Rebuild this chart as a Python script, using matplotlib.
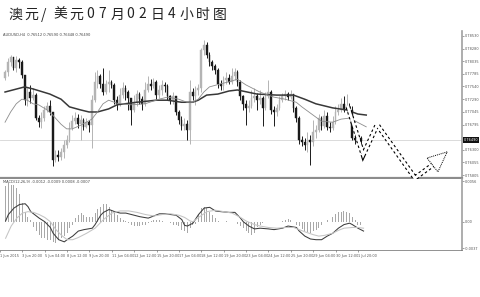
import matplotlib
matplotlib.use("Agg")
import matplotlib.pyplot as plt
from matplotlib.patches import Polygon
import numpy as np

# ---- candles (4h bars, AUDUSD) ----
open0 = 0.7770
close = [0.7782, 0.7802, 0.7811, 0.7790, 0.7806, 0.7802, 0.7776, 0.7727, 0.7743, 0.7731,
         0.7737, 0.7692, 0.7684, 0.7692, 0.7708, 0.7716, 0.7704, 0.7610, 0.7620, 0.7616,
         0.7626, 0.7640, 0.7649, 0.7673, 0.7686, 0.7692, 0.7680, 0.7688, 0.7675, 0.7684,
         0.7678, 0.7727, 0.7763, 0.7774, 0.7759, 0.7743, 0.7759, 0.7763, 0.7757, 0.7727,
         0.7720, 0.7737, 0.7751, 0.7743, 0.7731, 0.7708, 0.7723, 0.7739, 0.7729, 0.7720,
         0.7747, 0.7759, 0.7755, 0.7763, 0.7737, 0.7747, 0.7757, 0.7755, 0.7735, 0.7727,
         0.7735, 0.7704, 0.7688, 0.7677, 0.7680, 0.7669, 0.7743, 0.7735, 0.7747, 0.7751,
         0.7825, 0.7835, 0.7815, 0.7802, 0.7794, 0.7786, 0.7759, 0.7755, 0.7766, 0.7770,
         0.7763, 0.7774, 0.7782, 0.7763, 0.7735, 0.7720, 0.7712, 0.7716, 0.7731, 0.7735,
         0.7727, 0.7731, 0.7712, 0.7735, 0.7743, 0.7708, 0.7704, 0.7712, 0.7727, 0.7735,
         0.7739, 0.7733, 0.7739, 0.7712, 0.7692, 0.7649, 0.7645, 0.7640, 0.7649, 0.7645,
         0.7665, 0.7669, 0.7692, 0.7677, 0.7696, 0.7675, 0.7673, 0.7684, 0.7704, 0.7708,
         0.7720, 0.7708, 0.7716, 0.7708, 0.7653, 0.7649, 0.7653, 0.7647]
high = [0.7786, 0.7809, 0.7815, 0.7811, 0.7813, 0.7809, 0.7806, 0.7776, 0.7751, 0.7757,
        0.7751, 0.7741, 0.7698, 0.7704, 0.7716, 0.7723, 0.7727, 0.7704, 0.7630, 0.7630,
        0.7634, 0.7649, 0.7659, 0.7684, 0.7698, 0.7704, 0.7700, 0.7698, 0.7692, 0.7692,
        0.7688, 0.7737, 0.7782, 0.7786, 0.7778, 0.7790, 0.7766, 0.7786, 0.7766, 0.7761,
        0.7735, 0.7751, 0.7763, 0.7757, 0.7747, 0.7731, 0.7737, 0.7747, 0.7743, 0.7735,
        0.7763, 0.7774, 0.7768, 0.7770, 0.7766, 0.7757, 0.7766, 0.7763, 0.7759, 0.7737,
        0.7743, 0.7735, 0.7708, 0.7696, 0.7692, 0.7688, 0.7766, 0.7751, 0.7755, 0.7759,
        0.7829, 0.7845, 0.7841, 0.7821, 0.7806, 0.7798, 0.7790, 0.7766, 0.7774, 0.7782,
        0.7778, 0.7790, 0.7790, 0.7786, 0.7766, 0.7737, 0.7727, 0.7727, 0.7747, 0.7751,
        0.7741, 0.7747, 0.7735, 0.7743, 0.7766, 0.7747, 0.7716, 0.7720, 0.7735, 0.7741,
        0.7747, 0.7743, 0.7747, 0.7739, 0.7716, 0.7696, 0.7657, 0.7653, 0.7665, 0.7659,
        0.7688, 0.7678, 0.7700, 0.7696, 0.7708, 0.7704, 0.7684, 0.7696, 0.7716, 0.7720,
        0.7731, 0.7735, 0.7739, 0.7721, 0.7716, 0.7661, 0.7661, 0.7657]
low = [0.7766, 0.7774, 0.7794, 0.7786, 0.7782, 0.7790, 0.7770, 0.7718, 0.7716, 0.7721,
       0.7727, 0.7688, 0.7675, 0.7673, 0.7686, 0.7704, 0.7698, 0.7598, 0.7606, 0.7608,
       0.7610, 0.7614, 0.7634, 0.7645, 0.7669, 0.7680, 0.7673, 0.7649, 0.7669, 0.7673,
       0.7665, 0.7634, 0.7723, 0.7751, 0.7751, 0.7737, 0.7739, 0.7743, 0.7751, 0.7720,
       0.7708, 0.7716, 0.7731, 0.7727, 0.7708, 0.7678, 0.7704, 0.7716, 0.7720, 0.7708,
       0.7716, 0.7743, 0.7747, 0.7751, 0.7729, 0.7731, 0.7737, 0.7743, 0.7727, 0.7720,
       0.7720, 0.7698, 0.7680, 0.7669, 0.7669, 0.7649, 0.7641, 0.7727, 0.7718, 0.7737,
       0.7743, 0.7815, 0.7809, 0.7794, 0.7786, 0.7778, 0.7751, 0.7747, 0.7747, 0.7759,
       0.7759, 0.7759, 0.7766, 0.7755, 0.7727, 0.7708, 0.7678, 0.7704, 0.7712, 0.7723,
       0.7708, 0.7720, 0.7677, 0.7708, 0.7731, 0.7700, 0.7677, 0.7696, 0.7708, 0.7723,
       0.7727, 0.7727, 0.7729, 0.7704, 0.7684, 0.7641, 0.7638, 0.7630, 0.7626, 0.7600,
       0.7638, 0.7653, 0.7665, 0.7669, 0.7673, 0.7669, 0.7665, 0.7669, 0.7680, 0.7698,
       0.7704, 0.7704, 0.7704, 0.7702, 0.7649, 0.7641, 0.7645, 0.7640]

# moving averages (read as vertices: bar index, price)
ma_slow_idx = [0, 7, 10, 16, 20, 23, 27, 30, 33, 37, 40, 47, 54, 58, 63, 67, 69, 72, 76, 80,
               83, 90, 97, 103, 107, 111, 117, 122, 126, 129]
ma_slow = [0.7743, 0.7753, 0.7749, 0.7739, 0.7729, 0.7714, 0.7708, 0.7704, 0.7704, 0.7710,
           0.7718, 0.7723, 0.7727, 0.7727, 0.7723, 0.7723, 0.7727, 0.7737, 0.7739, 0.7745,
           0.7747, 0.7739, 0.7737, 0.7737, 0.7729, 0.7720, 0.7712, 0.7708, 0.7700, 0.7698]
ma_fast_idx = [0, 2, 4, 6, 8, 10, 12, 15, 17, 20, 22, 24, 27, 29, 31, 33, 35, 37, 40, 45,
               50, 55, 58, 62, 65, 67, 69, 71, 73, 77, 80, 83, 86, 91, 96, 100, 104, 106, 110, 113,
               117, 120, 123, 129]
ma_fast = [0.7684, 0.7704, 0.7720, 0.7729, 0.7727, 0.7720, 0.7718, 0.7708, 0.7698, 0.7680,
           0.7671, 0.7671, 0.7678, 0.7684, 0.7690, 0.7704, 0.7720, 0.7727, 0.7721, 0.7718,
           0.7720, 0.7729, 0.7733, 0.7729, 0.7723, 0.7723, 0.7729, 0.7743, 0.7753, 0.7759,
           0.7763, 0.7768, 0.7757, 0.7743, 0.7733, 0.7729, 0.7723, 0.7714, 0.7698, 0.7686,
           0.7684, 0.7690, 0.7692, 0.7675]

# MACD(12,26,9)
macd_hist = [0.0049, 0.0054, 0.0051, 0.0051, 0.0047, 0.0038, 0.0026, 0.0014, 0.0007, 0.0003,
             -0.0008, -0.0013, -0.0019, -0.0023, -0.0023, -0.0025, -0.0025, -0.0028, -0.0030, -0.0025,
             -0.0022, -0.0020, -0.0016, -0.0009, -0.0004, 0.0005, 0.0010, 0.0012, 0.0010, 0.0007,
             0.0007, 0.0007, 0.0012, 0.0017, 0.0021, 0.0024, 0.0024, 0.0020, 0.0016, 0.0013,
             0.0009, 0.0005, 0.0003, 0.0001, -0.0002, -0.0004, -0.0006, -0.0006, -0.0006, -0.0004,
             -0.0004, -0.0002, 0.0001, 0.0003, 0.0003, 0.0002, 0.0001, 0.0001, -0.0001, -0.0002,
             -0.0004, -0.0004, -0.0006, -0.0011, -0.0013, -0.0016, -0.0009, -0.0004, -0.0003, 0.0010,
             0.0019, 0.0021, 0.0019, 0.0014, 0.0010, 0.0005, 0.0001, 0.0000, 0.0000, 0.0001,
             0.0000, 0.0000, -0.0001, -0.0003, -0.0006, -0.0009, -0.0013, -0.0016, -0.0018, -0.0016,
             -0.0008, -0.0004, -0.0002, -0.0001, 0.0000, 0.0000, -0.0001, -0.0001, -0.0001, 0.0001,
             0.0003, 0.0004, 0.0003, 0.0000, -0.0004, -0.0006, -0.0010, -0.0013, -0.0014, -0.0016,
             -0.0013, -0.0011, -0.0009, -0.0004, 0.0000, 0.0003, 0.0005, 0.0007, 0.0011, 0.0013,
             0.0014, 0.0015, 0.0014, 0.0012, 0.0007, 0.0003, -0.0004, -0.0004]
macd_idx = [0, 1, 3, 5, 7, 8, 9, 10, 12, 14, 16, 17, 19, 21, 22, 24, 26, 28, 31, 32,
            34, 35, 37, 39, 41, 43, 45, 48, 51, 53, 55, 57, 59, 61, 63, 64, 65, 66, 67, 69,
            71, 73, 75, 77, 80, 82, 84, 85, 87, 89, 91, 94, 96, 99, 101, 104, 105, 107, 109, 111,
            113, 115, 117, 119, 121, 123, 124, 126, 128]
macd_main = [0.0001, 0.0010, 0.0019, 0.0024, 0.0025, 0.0021, 0.0014, 0.0011, 0.0005, 0.0000,
             -0.0008, -0.0016, -0.0025, -0.0028, -0.0025, -0.0020, -0.0013, -0.0011, -0.0009, -0.0004,
             0.0009, 0.0013, 0.0017, 0.0014, 0.0012, 0.0012, 0.0010, 0.0007, 0.0005, 0.0008,
             0.0011, 0.0011, 0.0010, 0.0009, 0.0003, -0.0005, -0.0006, -0.0004, -0.0002, 0.0010,
             0.0019, 0.0020, 0.0015, 0.0014, 0.0013, 0.0013, 0.0005, 0.0000, -0.0006, -0.0010,
             -0.0009, -0.0010, -0.0011, -0.0009, -0.0006, -0.0008, -0.0013, -0.0020, -0.0024, -0.0025,
             -0.0025, -0.0020, -0.0016, -0.0009, -0.0004, -0.0002, -0.0004, -0.0009, -0.0013]
signal_idx = [0, 2, 4, 6, 8, 10, 12, 14, 16, 18, 20, 22, 24, 26, 29, 32, 35, 38, 41, 44,
              47, 50, 53, 56, 59, 62, 64, 66, 67, 69, 72, 75, 78, 81, 84, 86, 89, 91, 94, 97,
              100, 103, 105, 107, 110, 112, 114, 117, 119, 121, 124, 126, 128]
macd_signal = [-0.0023, -0.0006, 0.0005, 0.0012, 0.0014, 0.0013, 0.0010, 0.0006, 0.0000, -0.0011,
               -0.0019, -0.0025, -0.0025, -0.0022, -0.0016, -0.0009, 0.0003, 0.0012, 0.0015, 0.0015,
               0.0013, 0.0010, 0.0008, 0.0010, 0.0011, 0.0009, 0.0006, 0.0001, 0.0000, 0.0006,
               0.0014, 0.0016, 0.0014, 0.0012, 0.0006, 0.0001, -0.0004, -0.0006, -0.0008, -0.0009,
               -0.0008, -0.0008, -0.0011, -0.0014, -0.0018, -0.0020, -0.0019, -0.0016, -0.0012, -0.0009,
               -0.0008, -0.0008, -0.0009]

# forecast zigzag drawn on chart (bar index, price)
fc_idx = [122.5, 127.9, 132.9, 146.4, 153.6]
fc_price = [0.7714, 0.7620, 0.7679, 0.7575, 0.7604]
fc_head_idx = [157.9, 150.7, 154.6]
fc_head_price = [0.7626, 0.7614, 0.7587]

price_ticks = [0.78530, 0.78280, 0.78035, 0.77785, 0.77540, 0.77290, 0.77045, 0.76795,
               0.76300, 0.76055, 0.75805]
last_price = 0.76490
date_ticks = [-2, 6, 14, 22, 30, 38, 46, 54, 62, 70, 78, 86, 94, 102, 110, 118, 126]
date_labels = ["1 Jun 2015", "3 Jun 20:00", "5 Jun 04:00", "8 Jun 12:00", "9 Jun 20:00",
               "11 Jun 04:00", "12 Jun 12:00", "15 Jun 20:00", "17 Jun 04:00", "18 Jun 12:00",
               "19 Jun 20:00", "23 Jun 04:00", "24 Jun 12:00", "25 Jun 20:00", "29 Jun 04:00",
               "30 Jun 12:00", "1 Jul 20:00"]
title = "澳元/美元07月02日4小时图"

close = np.array(close)
high = np.array(high)
low = np.array(low)
opn = np.r_[open0, close[:-1]]
idx = np.arange(len(close))
up = close >= opn

fig = plt.figure(figsize=(4.8, 2.97), dpi=100)
fig.patch.set_facecolor("white")

ax = fig.add_axes([0.0, 0.4017, 0.9625, 0.4939])
ax2 = fig.add_axes([0.0, 0.1566, 0.9625, 0.2407])
xlim = (-1.8, 163.2)
small = 2.5

# main chart
ax.axhline(last_price, color="#d4d4d4", lw=0.6, zorder=1)
col = np.where(up, "#b4b4b4", "#1a1a1a")
ax.vlines(idx, low, high, colors=col, lw=0.7, zorder=2)
ax.bar(idx, close - opn, bottom=opn, width=0.62, color=col, edgecolor=col, lw=0.3, zorder=3)
ax.plot(ma_slow_idx, ma_slow, color="#383838", lw=1.1, zorder=4)
ax.plot(ma_fast_idx, ma_fast, color="#8c8c8c", lw=0.6, zorder=4)

# forecast arrow
ax.plot(fc_idx, fc_price, color="black", lw=3.6, ls=(0, (0.5, 0.5)), clip_on=False,
        solid_joinstyle="miter", dash_joinstyle="miter", zorder=6)
ax.plot(fc_idx, fc_price, color="white", lw=2.0, clip_on=False, solid_joinstyle="miter", zorder=7)
head = Polygon(list(zip(fc_head_idx, fc_head_price)), closed=True, facecolor="white",
               edgecolor="black", lw=0.7, ls=(0, (1, 1)), clip_on=False, zorder=8)
ax.add_patch(head)

ax.set_xlim(*xlim)
ax.set_ylim(0.75756, 0.78622)
ax.yaxis.tick_right()
ax.set_yticks(price_ticks)
ax.set_yticklabels(["%.5f" % p for p in price_ticks])
ax.tick_params(axis="y", labelsize=small, length=1.2, width=0.4, pad=0.6, colors="#555555")
ax.set_xticks([])
for s in ["top", "left"]:
    ax.spines[s].set_visible(False)
ax.spines["right"].set_color("#a0a0a0")
ax.spines["right"].set_linewidth(1.2)
ax.spines["bottom"].set_color("#8c8c8c")
ax.spines["bottom"].set_linewidth(1.6)
ax.text(0.006, 0.985, "AUDUSD,H4  0.76512 0.76590 0.76448 0.76490", transform=ax.transAxes,
        fontsize=2.6, color="#444444", va="top", ha="left")
ax.text(1.004, last_price, "%.5f" % last_price, transform=ax.get_yaxis_transform(),
        fontsize=small, color="white", va="center", ha="left",
        bbox=dict(boxstyle="square,pad=0.2", fc="#111111", ec="none"))

# MACD panel
ax2.bar(idx, macd_hist, width=0.35, color="#a8a8a8", zorder=2)
ax2.plot(macd_idx, macd_main, color="#3c3c3c", lw=0.75, zorder=3)
ax2.plot(signal_idx, macd_signal, color="#c4c4c4", lw=0.75, zorder=3)
ax2.set_xlim(*xlim)
ax2.set_ylim(-0.0040, 0.00594)
ax2.yaxis.tick_right()
ax2.set_yticks([0.0056, 0.0, -0.0037])
ax2.set_yticklabels(["0.0056", "0.00", "-0.0037"])
ax2.tick_params(axis="y", labelsize=small, length=1.2, width=0.4, pad=0.6, colors="#555555")
ax2.set_xticks(date_ticks)
ax2.set_xticklabels(date_labels, ha="left")
ax2.tick_params(axis="x", labelsize=small, length=1.5, width=0.4, pad=1.2, colors="#555555")
for s in ["top", "left"]:
    ax2.spines[s].set_visible(False)
ax2.spines["right"].set_color("#a0a0a0")
ax2.spines["right"].set_linewidth(1.2)
ax2.spines["bottom"].set_color("#666666")
ax2.spines["bottom"].set_linewidth(0.5)
ax2.text(0.006, 0.985, "MACD(12,26,9) -0.0012 -0.0009 0.0008 -0.0007", transform=ax2.transAxes,
         fontsize=2.6, color="#444444", va="top", ha="left")

# title: wide-spaced glyphs as in the screenshot
x = 8.0
for ch in title:
    fig.text(x / 480, 1 - 14.5 / 297, ch, fontsize=10, color="#222222",
             family=["Noto Sans CJK SC", "DejaVu Sans"], va="center", ha="left")
    x += 16.4 if ord(ch) > 255 else 12.2

fig.savefig("out.png", dpi=100, facecolor="white")
